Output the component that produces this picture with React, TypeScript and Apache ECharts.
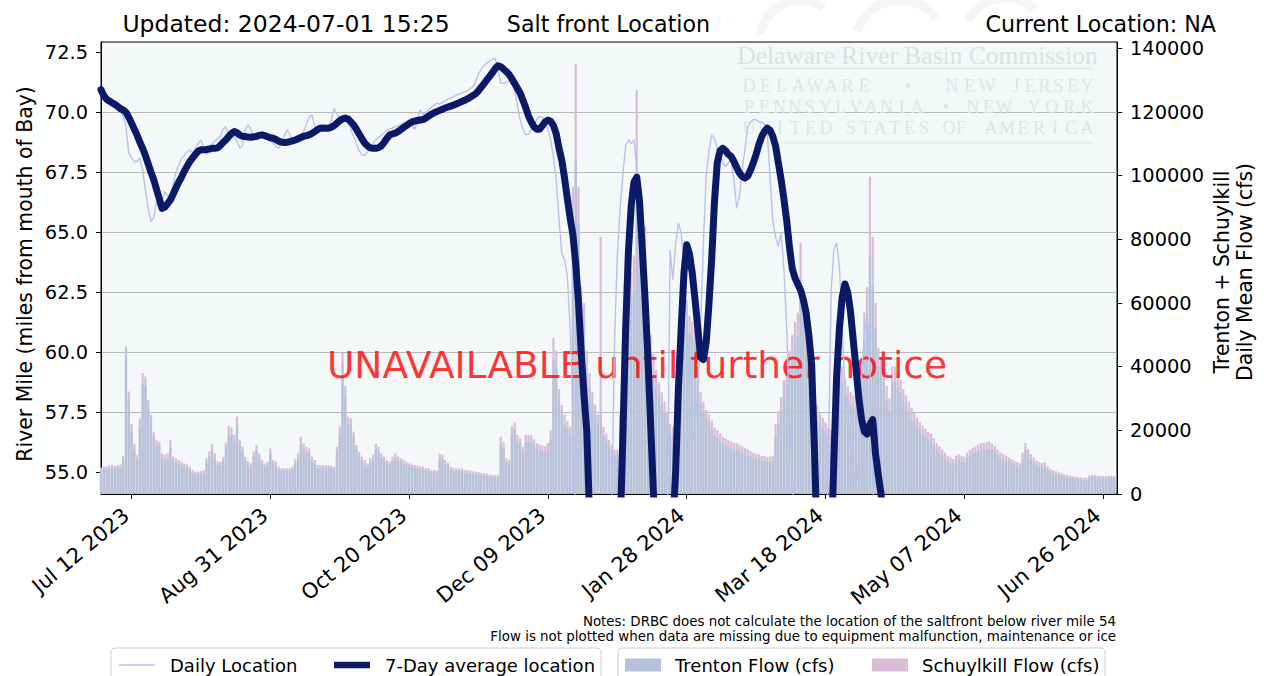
import React, { useEffect, useRef } from "react";
import * as echarts from "echarts";

// x values are days since 1970-01-01 (UTC); index 0 of every array = Jul 1 2023
const START_DAY = 19539; // Jul 01 2023
const END_DAY = 19905; // Jul 01 2024
const dateTicks = [19550, 19600, 19650, 19700, 19750, 19800, 19850, 19900];
const mileTicks = [55, 57.5, 60, 62.5, 65, 67.5, 70, 72.5];
const flowTicks = [0, 20000, 40000, 60000, 80000, 100000, 120000, 140000];
const MONTHS = ["Jan", "Feb", "Mar", "Apr", "May", "Jun", "Jul", "Aug", "Sep", "Oct", "Nov", "Dec"];

// Daily salt front location (river mile)
const dailyLocation = [
  70.94, 70.8, 70.6, 70.5, 70.45, 70.4, 70.3, 70.1, 69.85, 69.4,
  68.3, 68.1, 67.95, 67.95, 68.1, 67.6, 66.77, 66.0, 65.45, 65.6,
  66.3, 65.94, 66.3, 66.7, 66.5, 66.49, 67.0, 67.5, 67.8, 68.1,
  68.2, 68.35, 68.44, 68.3, 68.5, 68.7, 68.85, 68.5, 68.23, 68.5,
  68.7, 68.8, 68.9, 68.99, 69.3, 69.4, 69.0, 68.9, 69.0, 68.8,
  68.5, 68.6, 69.3, 69.48, 69.3, 68.9, 68.85, 69.0, 69.1, 69.05,
  68.95, 68.8, 68.7, 68.6, 68.5, 68.7, 69.0, 69.27, 69.1, 68.78,
  68.85, 68.9, 69.0, 69.2, 69.5, 69.8, 69.9, 69.4, 69.2, 69.25,
  69.3, 69.25, 69.35, 69.7, 70.17, 69.9, 69.8, 69.8, 69.8, 69.6,
  69.3, 68.99, 68.7, 68.4, 68.23, 68.2, 68.35, 68.5, 68.7, 68.85,
  68.95, 69.05, 69.15, 69.25, 69.3, 69.35, 69.4, 69.45, 69.5, 69.55,
  69.6, 69.62, 69.5, 69.27, 69.7, 70.1, 69.9, 69.95, 70.1, 70.2,
  70.3, 70.38, 70.35, 70.4, 70.5, 70.55, 70.6, 70.65, 70.73, 70.75,
  70.8, 70.85, 70.9, 71.0, 71.07, 71.3, 71.6, 71.8, 71.95, 72.05,
  72.15, 72.2, 72.26, 71.8, 71.22, 71.2, 71.25, 71.3, 71.35, 70.9,
  70.3, 69.69, 69.3, 69.06, 69.1, 69.3, 69.5, 69.7, 69.83, 69.8,
  69.6, 69.3, 68.85, 68.1, 67.19, 65.5, 64.13, 63.85, 63.16, 61.0,
  57.5, 53.0, 49.0, 46.0, 44.0, 43.0, 43.0, 43.5, 44.0, 45.0,
  45.5, 46.0, 47.0, 49.5, 53.5, 60.5, 64.0, 66.0, 67.4, 68.6,
  68.85, 68.7, 68.85, 67.6, 65.2, 62.5, 60.5, 57.5, 53.5, 49.0,
  46.0, 45.0, 45.0, 47.0, 52.0, 64.27, 63.02, 64.5, 65.38, 64.97,
  63.5, 61.5, 58.0, 56.3, 56.9, 58.3, 61.0, 64.5, 67.33, 68.4,
  69.06, 68.9, 68.5, 68.3, 67.9, 67.74, 67.9, 68.0, 67.2, 66.0,
  66.5, 67.6, 68.5, 69.4, 69.6, 69.7, 69.69, 69.6, 69.6, 69.5,
  69.2, 67.33, 65.5, 64.8, 64.4, 64.97, 63.5, 61.07, 57.5, 54.8,
  52.5, 50.0, 48.0, 47.0, 46.5, 46.0, 46.0, 46.0, 46.5, 47.0,
  48.0, 50.0, 55.0, 62.5, 64.3, 64.55, 63.6, 61.0, 58.5, 57.4,
  56.0, 55.0, 54.4, 55.5, 59.1, 60.8, 61.6, 59.3, 55.0, 51.0,
];

// 7-day average salt front location (river mile)
const sevenDayAverage = [
  70.94, 70.7, 70.55, 70.47, 70.4, 70.33, 70.25, 70.15, 70.1, 70.0,
  69.8, 69.55, 69.3, 69.05, 68.75, 68.5, 68.2, 67.85, 67.5, 67.19,
  66.8, 66.4, 66.0, 66.05, 66.2, 66.35, 66.6, 66.85, 67.1, 67.3,
  67.55, 67.75, 67.95, 68.1, 68.25, 68.38, 68.44, 68.44, 68.45, 68.47,
  68.5, 68.5, 68.52, 68.62, 68.75, 68.85, 69.0, 69.12, 69.2, 69.15,
  69.05, 69.0, 68.99, 68.97, 68.96, 68.98, 69.0, 69.04, 69.06, 69.03,
  68.98, 68.94, 68.92, 68.87, 68.8, 68.76, 68.74, 68.75, 68.78, 68.81,
  68.85, 68.9, 68.95, 69.0, 69.03, 69.06, 69.12, 69.2, 69.28, 69.34,
  69.35, 69.34, 69.34, 69.38, 69.45, 69.55, 69.65, 69.73, 69.76, 69.72,
  69.6, 69.48, 69.3, 69.1, 68.9, 68.72, 68.6, 68.52, 68.5, 68.5,
  68.53, 68.6, 68.75, 68.92, 69.06, 69.1, 69.13, 69.2, 69.28, 69.37,
  69.45, 69.53, 69.6, 69.63, 69.66, 69.68, 69.7, 69.76, 69.84, 69.92,
  69.98, 70.03, 70.08, 70.13, 70.18, 70.22, 70.26, 70.3, 70.35, 70.4,
  70.45, 70.5, 70.56, 70.63, 70.7, 70.78, 70.9, 71.05, 71.2, 71.35,
  71.5, 71.65, 71.82, 71.94, 71.9, 71.8, 71.7, 71.58, 71.4, 71.2,
  71.0, 70.8, 70.5, 70.2, 69.85, 69.6, 69.4, 69.3, 69.3, 69.45,
  69.6, 69.68, 69.62, 69.45, 69.1, 68.5, 68.0, 67.25, 66.4, 65.6,
  64.9, 63.7, 62.1, 60.0, 58.2, 56.7, 53.2, 50.5, 48.0, 46.5,
  45.5, 45.0, 45.0, 45.5, 46.5, 48.0, 50.0, 52.5, 56.5, 61.0,
  64.2, 66.1, 67.1, 67.3, 66.3, 64.3, 62.2, 59.8, 57.0, 54.2,
  51.0, 48.5, 47.5, 47.5, 48.5, 50.5, 52.8, 55.0, 58.5, 61.0,
  63.3, 64.48, 64.1, 63.3, 62.2, 61.0, 59.8, 59.7, 60.4, 62.0,
  63.9, 66.3, 67.9, 68.4, 68.5, 68.4, 68.25, 68.16, 67.95, 67.7,
  67.47, 67.33, 67.26, 67.35, 67.6, 67.9, 68.25, 68.65, 68.99, 69.2,
  69.34, 69.25, 69.0, 68.6, 67.9, 67.2, 66.4, 65.5, 64.4, 63.5,
  63.1, 62.85, 62.6, 62.2, 61.65, 60.7, 59.5, 56.0, 52.0, 49.0,
  47.5, 47.5, 49.0, 51.5, 55.5, 59.0, 61.0, 62.3, 62.85, 62.5,
  61.7, 60.5, 59.3, 58.1, 57.2, 56.7, 56.6, 57.0, 57.2, 55.8,
  54.9, 54.1, 52.5, 50.5,
];

// Trenton daily mean flow (cfs)
const trentonFlow = [
  7400, 7600, 7700, 7900, 8100, 7800, 8100, 8300, 10500, 43300,
  29700, 19800, 14000, 10700, 21000, 34500, 33900, 27000, 22700, 17700,
  15100, 14700, 11300, 10900, 11000, 14500, 10200, 9900, 9500, 9100,
  8600, 8300, 7700, 6700, 6300, 6300, 6400, 6600, 9600, 11800,
  13800, 11300, 9000, 9100, 10200, 14000, 18500, 18500, 16600, 21800,
  15300, 13300, 10400, 9100, 8600, 11800, 13800, 11400, 9500, 8600,
  9100, 12700, 9500, 9100, 7700, 7300, 7300, 7300, 7300, 7700,
  9500, 11100, 15500, 13900, 13000, 12700, 10400, 9600, 8100, 8100,
  8100, 8100, 8100, 8000, 7700, 13000, 18700, 40800, 30900, 22000,
  21700, 17800, 13900, 12000, 10500, 9600, 8600, 9800, 10800, 14000,
  13200, 11400, 10400, 9500, 9100, 10400, 11400, 10400, 10000, 9500,
  9100, 8600, 8300, 8100, 8000, 7800, 7700, 7300, 7200, 6800,
  6700, 6600, 11200, 10900, 9500, 8700, 7600, 7300, 7200, 7100,
  7100, 6800, 6700, 6600, 6300, 6200, 6200, 5900, 5800, 5700,
  5400, 5300, 5200, 5200, 15500, 14400, 9700, 9300, 18700, 20000,
  16500, 15600, 13100, 16200, 16400, 16400, 15200, 14200, 13800, 13600,
  13400, 14100, 17000, 42000, 39500, 29000, 24700, 22000, 20400, 18600,
  71500, 105000, 84500, 58000, 54000, 40000, 33800, 28400, 24800, 22000,
  25800, 18200, 16500, 14800, 13500, 12200, 12200, 21000, 37000, 61600,
  63000, 61500, 63000, 92000, 76000, 72000, 64000, 49000, 43500, 38500,
  34000, 30500, 28000, 25400, 22700, 19000, 18000, 25000, 40500, 47700,
  51000, 54500, 50500, 49000, 47500, 36000, 28500, 25800, 23400, 22100,
  20200, 18400, 17500, 16600, 15700, 15300, 14800, 14400, 14000, 14000,
  13500, 13100, 12600, 12200, 11700, 11300, 10800, 10800, 10400, 10400,
  10000, 10200, 10300, 18000, 22000, 26000, 30800, 34500, 39000, 43000,
  47000, 49500, 62000, 54000, 44000, 36000, 31300, 28000, 24500, 22100,
  21000, 19700, 18300, 17500, 25000, 34000, 40500, 35000, 31500, 29800,
  28000, 27200, 26400, 24600, 34000, 48000, 55000, 74700, 65800, 52000,
  40000, 37500, 35000, 29500, 26000, 35000, 35200, 33500, 31800, 29000,
  27200, 25400, 23600, 22300, 21000, 19600, 18700, 17800, 16900, 16500,
  15100, 13700, 12800, 11900, 11000, 10100, 9700, 9300, 10200, 10700,
  10300, 10100, 11100, 11900, 12500, 12900, 13500, 13900, 13900, 14100,
  14300, 13700, 13000, 12100, 11200, 10800, 10400, 10000, 9500, 9100,
  8600, 8400, 11000, 13800, 12100, 10800, 10000, 9100, 8700, 8400,
  8500, 7500, 6900, 6500, 6200, 6000, 5700, 5400, 5200, 5000,
  4900, 4700, 4600, 4500, 4400, 4400, 5000, 5200, 5200, 5000,
  5000, 5000, 4900, 5000, 5000, 4900,
];

// Schuylkill daily mean flow (cfs), drawn stacked on top of Trenton
const schuylkillFlow = [
  900, 900, 1000, 1100, 1100, 1000, 1000, 1000, 1500, 3000,
  2500, 2200, 1800, 1500, 2800, 3500, 3000, 2600, 2200, 1900,
  1800, 1700, 1500, 1400, 1800, 2400, 1500, 1300, 1200, 1100,
  1000, 1000, 900, 800, 700, 700, 800, 900, 1600, 1500,
  1900, 1500, 1200, 1100, 1300, 2100, 2800, 2500, 2000, 2500,
  1800, 1500, 1300, 1100, 1000, 1500, 1600, 1400, 1200, 1000,
  1100, 1600, 1200, 1100, 900, 800, 800, 800, 800, 900,
  1400, 1700, 2500, 2000, 1800, 1600, 1300, 1100, 1000, 1000,
  1000, 900, 900, 900, 900, 1800, 2600, 3500, 3000, 2300,
  2100, 1800, 1500, 1300, 1200, 1100, 1000, 1400, 1500, 1700,
  1600, 1400, 1300, 1200, 1100, 1300, 1400, 1300, 1200, 1200,
  1100, 1000, 1000, 1000, 1000, 900, 900, 900, 900, 800,
  800, 800, 1400, 1400, 1200, 1100, 1000, 900, 900, 900,
  900, 800, 800, 800, 800, 800, 700, 700, 700, 700,
  700, 700, 700, 700, 2500, 2000, 1500, 1400, 2600, 2500,
  2100, 1900, 1700, 2400, 2200, 2000, 1900, 1800, 1700, 1600,
  1600, 1900, 3000, 7000, 5500, 4000, 3300, 3000, 2600, 2400,
  25000, 30000, 12000, 7000, 6000, 5000, 4200, 3600, 3200, 3000,
  55000, 2800, 2500, 2200, 2000, 1800, 1800, 4000, 8000, 12000,
  10000, 8000, 12000, 35000, 14000, 12000, 20000, 8000, 6500, 5500,
  5000, 4500, 4000, 3600, 3300, 3000, 3000, 5000, 8000, 8000,
  7000, 6500, 5500, 5000, 4500, 4000, 3500, 3200, 3000, 2900,
  2800, 2600, 2500, 2400, 2300, 2200, 2200, 2100, 2000, 2000,
  2000, 1900, 1900, 1800, 1800, 1700, 1700, 1700, 1600, 1600,
  1600, 1600, 1700, 4000, 4000, 4500, 5000, 5500, 6000, 7000,
  7000, 7500, 17000, 8000, 6000, 5000, 4500, 4000, 3500, 3200,
  3000, 2800, 2700, 2600, 5000, 6000, 12000, 5000, 4500, 4200,
  4000, 3800, 3600, 3400, 6000, 9000, 10000, 25000, 15000, 8000,
  6000, 5500, 5000, 4500, 4000, 5000, 4800, 4500, 4200, 4000,
  3800, 3600, 3400, 3200, 3000, 2900, 2800, 2700, 2600, 2500,
  2400, 2300, 2200, 2100, 2000, 1900, 1800, 1700, 1800, 1800,
  1700, 1700, 1900, 2000, 2000, 2000, 2000, 2100, 2100, 2100,
  2200, 2100, 2000, 1900, 1800, 1700, 1600, 1500, 1500, 1400,
  1400, 1300, 2000, 2200, 1900, 1700, 1500, 1400, 1300, 1300,
  1500, 1200, 1100, 1000, 1000, 900, 900, 800, 800, 800,
  700, 700, 700, 700, 700, 700, 800, 800, 800, 800,
  700, 700, 700, 700, 800, 700,
];

const C_DAILY = "#b9c2ef";
const C_AVG = "#0b1a66";
const C_TRENTON = "#b4c3da";
const C_SCHUYL = "#d8bcd8";
const FONT = "DejaVu Sans";
const SERIF = "Liberation Serif";

function fmtDay(v: number): string {
  const dt = new Date(v * 86400000);
  const dd = String(dt.getUTCDate()).padStart(2, "0");
  return `${MONTHS[dt.getUTCMonth()]} ${dd} ${dt.getUTCFullYear()}`;
}

function txt(text: string, x: number, y: number, fontSize: number, o: any = {}) {
  return {
    type: "text",
    x,
    y,
    z: o.z ?? 10,
    rotation: o.rotation ?? 0,
    silent: true,
    style: {
      text,
      fontSize,
      fontFamily: o.font ?? FONT,
      fill: o.fill ?? "#000",
      align: o.align ?? "center",
      verticalAlign: o.va ?? "middle",
    },
  };
}

// watermark words: [word, left, right, centerY]
const WM_WORDS: [string, number, number, number][] = [
  ["DELAWARE", 743, 870, 86], ["•", 902, 914, 86], ["NEW", 946, 993, 86], ["JERSEY", 1010, 1093, 86],
  ["PENNSYLVANIA", 743, 923, 106.5], ["•", 940, 952, 106.5], ["NEW", 967, 1010, 106.5], ["YORK", 1028, 1093, 106.5],
  ["UNITED", 743, 832, 127.5], ["STATES", 845, 930, 127.5], ["OF", 943, 967, 127.5], ["AMERICA", 985, 1093, 127.5],
];

function watermark(): any[] {
  const wm = "#dfe5e5";
  const els: any[] = [];
  els.push(txt("Delaware River Basin Commission", 917.5, 55, 25.5, { font: SERIF, fill: "#dbe2e2", z: 1 }));
  els.push({ type: "line", z: 1, silent: true, shape: { x1: 742, y1: 68.5, x2: 1093, y2: 68.5 }, style: { stroke: "#e3e9e9", lineWidth: 1.5 } });
  els.push({ type: "line", z: 1, silent: true, shape: { x1: 742, y1: 143, x2: 1093, y2: 143 }, style: { stroke: "#e8eded", lineWidth: 1.5 } });
  WM_WORDS.forEach(([w, x0, x1, y]) => {
    const chars = w.split("");
    const n = chars.length;
    chars.forEach((ch, i) => {
      const cx = n === 1 ? (x0 + x1) / 2 : x0 + 6 + (i * (x1 - x0 - 12)) / (n - 1);
      els.push(txt(ch, cx, y, 18, { font: SERIF, fill: wm, z: 1 }));
    });
  });
  // very faint logo swooshes above the plot
  const sw = { fill: "none", stroke: "#f4f6f6", lineWidth: 9 };
  els.push({ type: "arc", z: 0, silent: true, shape: { cx: 800, cy: 40, r: 40, startAngle: Math.PI * 1.05, endAngle: Math.PI * 1.7 }, style: sw });
  els.push({ type: "arc", z: 0, silent: true, shape: { cx: 900, cy: 45, r: 45, startAngle: Math.PI * 1.1, endAngle: Math.PI * 1.8 }, style: sw });
  els.push({ type: "arc", z: 0, silent: true, shape: { cx: 1005, cy: 40, r: 42, startAngle: Math.PI * 1.15, endAngle: Math.PI * 1.75 }, style: sw });
  return els;
}

function legend(): any[] {
  const els: any[] = [];
  const box = (x: number, w: number) => ({
    type: "rect", z: 10, silent: true,
    shape: { x, y: 648, width: w, height: 44, r: 4 },
    style: { fill: "#ffffff", stroke: "#d0d0d0", lineWidth: 1 },
  });
  els.push(box(111, 490));
  els.push(box(618, 487));
  const ly = 665;
  els.push({ type: "line", z: 11, silent: true, shape: { x1: 119, y1: ly, x2: 155, y2: ly }, style: { stroke: C_DAILY, lineWidth: 1.5 } });
  els.push(txt("Daily Location", 170, ly, 18, { align: "left", z: 11 }));
  els.push({ type: "line", z: 11, silent: true, shape: { x1: 334, y1: ly, x2: 370, y2: ly }, style: { stroke: C_AVG, lineWidth: 6.5 } });
  els.push(txt("7-Day average location", 385, ly, 18, { align: "left", z: 11 }));
  els.push({ type: "rect", z: 11, silent: true, shape: { x: 625, y: ly - 6.5, width: 36, height: 13 }, style: { fill: C_TRENTON } });
  els.push(txt("Trenton Flow (cfs)", 675, ly, 18, { align: "left", z: 11 }));
  els.push({ type: "rect", z: 11, silent: true, shape: { x: 872, y: ly - 6.5, width: 36, height: 13 }, style: { fill: C_SCHUYL } });
  els.push(txt("Schuylkill Flow (cfs)", 922, ly, 18, { align: "left", z: 11 }));
  return els;
}

export default function App() {
  const ref = useRef<HTMLDivElement>(null);
  useEffect(() => {
    if (!ref.current) return;
    const chart = echarts.init(ref.current, undefined, { renderer: "svg" });

    const totalPts = trentonFlow.map((t, i) => [START_DAY + i, t + schuylkillFlow[i]]);
    const trentonPts = trentonFlow.map((t, i) => [START_DAY + i, t]);
    const dailyPts = dailyLocation.map((v, i) => [START_DAY + i, v]);
    const avgPts = sevenDayAverage.map((v, i) => [START_DAY + i, v]);

    const tickFont = { fontSize: 19.4, fontFamily: FONT, color: "#000" };

    const option: any = {
      animation: false,
      backgroundColor: "#ffffff",
      grid: {
        left: 101, right: 156, top: 42, bottom: 182,
        show: true, backgroundColor: "#f5f8f8", borderColor: "#000", borderWidth: 1,
        containLabel: false, outerBoundsMode: "none",
      },
      xAxis: {
        type: "value", min: START_DAY, max: END_DAY, minInterval: 50, maxInterval: 50,
        axisLine: { show: true, onZero: false, lineStyle: { color: "#000", width: 1 } },
        axisTick: { show: true, length: 5, customValues: dateTicks, lineStyle: { color: "#000", width: 1 } },
        axisLabel: {
          fontSize: 21, fontFamily: FONT, color: "#000",
          customValues: dateTicks, rotate: 40, margin: 14, padding: [0, 7, 0, 0],
          formatter: (v: number) => fmtDay(v),
        },
        splitLine: { show: false },
      },
      yAxis: [
        {
          type: "value", position: "left", min: 54.1, max: 72.93, minInterval: 2.5, maxInterval: 2.5,
          axisLine: { show: true, onZero: false, lineStyle: { color: "#000", width: 1 } },
          axisTick: { show: true, length: 5, customValues: mileTicks, lineStyle: { color: "#000", width: 1 } },
          axisLabel: { ...tickFont, customValues: mileTicks, margin: 13, formatter: (v: number) => v.toFixed(1) },
          splitLine: { show: true, showMinLine: false, showMaxLine: false, lineStyle: { color: "#b9b9b9", width: 1 } },
        },
        {
          type: "value", position: "right", min: 0, max: 142000, interval: 20000,
          axisLine: { show: true, onZero: false, lineStyle: { color: "#000", width: 1 } },
          axisTick: { show: true, length: 5, customValues: flowTicks, lineStyle: { color: "#000", width: 1 } },
          axisLabel: { ...tickFont, customValues: flowTicks, margin: 13, formatter: (v: number) => String(v) },
          splitLine: { show: false },
        },
      ],
      series: [
        {
          name: "Schuylkill Flow (cfs)", type: "bar", xAxisIndex: 0, yAxisIndex: 1,
          data: totalPts, barCategoryGap: "20%", barGap: "-100%",
          itemStyle: { color: C_SCHUYL }, z: 2,
        },
        {
          name: "Trenton Flow (cfs)", type: "bar", xAxisIndex: 0, yAxisIndex: 1,
          data: trentonPts, barCategoryGap: "20%", barGap: "-100%",
          itemStyle: { color: C_TRENTON }, z: 2,
        },
        {
          name: "Daily Location", type: "line", xAxisIndex: 0, yAxisIndex: 0,
          data: dailyPts, symbol: "none", showSymbol: false, clip: true,
          lineStyle: { color: C_DAILY, width: 1.4 }, z: 4,
        },
        {
          name: "7-Day average location", type: "line", xAxisIndex: 0, yAxisIndex: 0,
          data: avgPts, symbol: "none", showSymbol: false, clip: true,
          lineStyle: { color: C_AVG, width: 7, cap: "round", join: "round" }, z: 5,
        },
      ],
      graphic: [
        ...watermark(),
        txt("Updated: 2024-07-01 15:25", 286, 24, 23.5),
        txt("Salt front Location", 608.5, 24, 22.2),
        txt("Current Location: NA", 1216, 24, 22.2, { align: "right" }),
        txt("River Mile (miles from mouth of Bay)", 25, 274, 20.4, { rotation: Math.PI / 2 }),
        txt("Trenton + Schuylkill", 1222, 272, 20.4, { rotation: Math.PI / 2 }),
        txt("Daily Mean Flow (cfs)", 1245, 272, 20.4, { rotation: Math.PI / 2 }),
        txt("UNAVAILABLE until further notice", 637, 365, 37.5, { fill: "rgba(255,0,0,0.8)", z: 3 }),
        txt("Notes: DRBC does not calculate the location of the saltfront below river mile 54", 1116, 621, 13.4, { align: "right" }),
        txt("Flow is not plotted when data are missing due to equipment malfunction, maintenance or ice", 1116, 636, 13.4, { align: "right" }),
        ...legend(),
      ],
    };
    chart.setOption(option);
    return () => chart.dispose();
  }, []);
  return (
    <div
      ref={ref}
      style={{ position: "fixed", left: 0, top: 0, width: 1273, height: 676, background: "#fff" }}
    />
  );
}
